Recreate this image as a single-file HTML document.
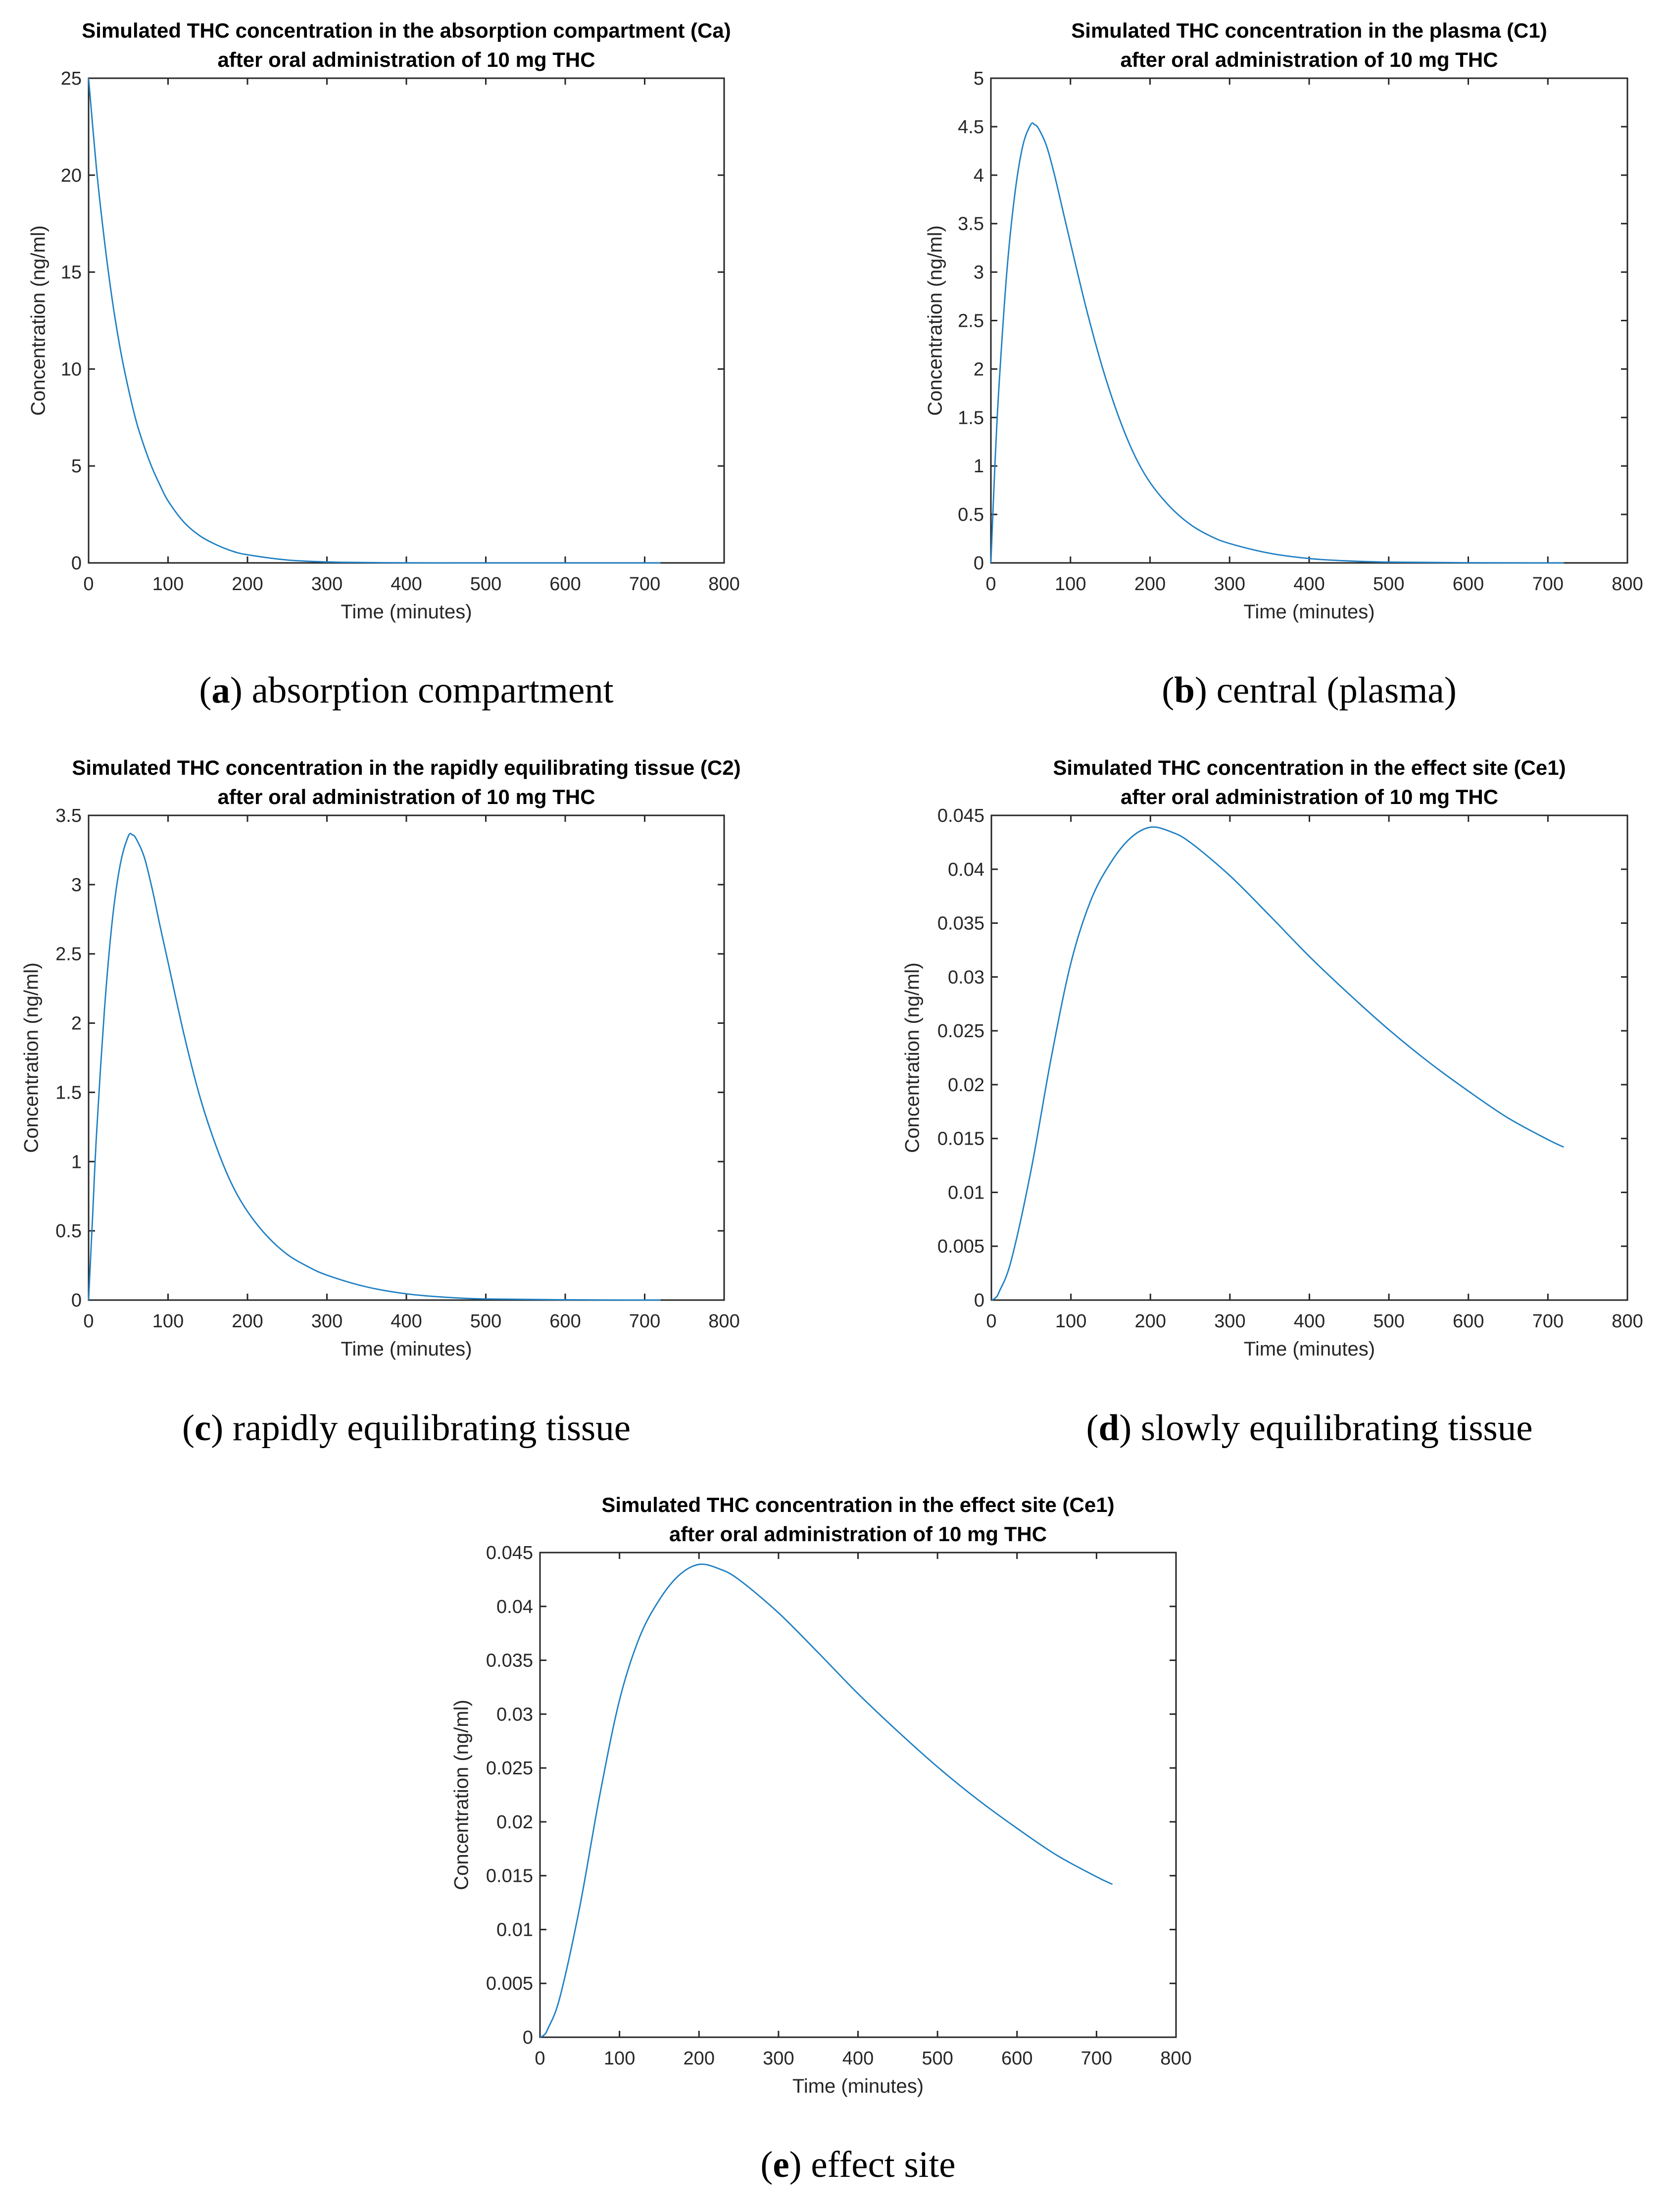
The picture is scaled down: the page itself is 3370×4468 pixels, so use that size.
<!DOCTYPE html>
<html><head><meta charset="utf-8"><style>
html,body{margin:0;padding:0;background:#fff}
svg{display:block}
</style></head><body>
<svg id="fig" xmlns="http://www.w3.org/2000/svg" width="3370" height="4468" viewBox="0 0 3370 4468"></svg>
<script>
// ---- data ----
const timesA = [0,10,20,30,40,50,60,70,80,90,100,120,140,160,180,200,250,300,350,400,500,600,720];
const valuesA = [25,20.3,16.6,13.5,11,9,7.3,6,4.9,4,3.2,2.1,1.4,0.95,0.62,0.42,0.15,0.05,0.02,0.005,0,0,0];
const timesB = [0,5,10,20,30,40,50,55,60,70,80,90,100,120,140,160,180,200,225,250,275,300,350,400,450,500,600,720];
const valuesB = [0,1.0,1.8,3.0,3.8,4.3,4.52,4.52,4.48,4.3,4.0,3.65,3.3,2.62,2.02,1.52,1.12,0.83,0.58,0.4,0.28,0.2,0.1,0.045,0.02,0.008,0.002,0];
const timesC = [0,5,10,20,30,40,50,55,60,70,80,90,100,120,140,160,180,200,225,250,275,300,350,400,450,500,600,720];
const valuesC = [0,0.6,1.2,2.1,2.75,3.15,3.35,3.36,3.33,3.2,2.97,2.7,2.44,1.92,1.47,1.12,0.84,0.64,0.46,0.33,0.245,0.18,0.095,0.045,0.02,0.008,0.002,0];
const timesCe = [0,5,10,25,50,75,100,125,150,175,200,225,250,300,350,400,450,500,550,600,650,700,720];
const valuesCe = [0,0.0002,0.0008,0.0037,0.0121,0.0224,0.0313,0.0371,0.0406,0.0429,0.0439,0.0435,0.0425,0.0394,0.0357,0.0319,0.0284,0.0251,0.0221,0.0194,0.0169,0.0149,0.0142];
const xTicks = [0,100,200,300,400,500,600,700,800];
const yTicksA = ["0","5","10","15","20","25"];
const yTicksB = ["0","0.5","1","1.5","2","2.5","3","3.5","4","4.5","5"];
const yTicksC = ["0","0.5","1","1.5","2","2.5","3","3.5"];
const yTicksCe = ["0","0.005","0.01","0.015","0.02","0.025","0.03","0.035","0.04","0.045"];

const NS="http://www.w3.org/2000/svg";
const svg=document.getElementById('fig');
function mk(tag,attrs,parent){const e=document.createElementNS(NS,tag);for(const k in attrs)e.setAttribute(k,attrs[k]);(parent||svg).appendChild(e);return e;}

const panels=[
 {id:'a',L:179,T:158,R:1463,B:1137,ymax:25,yt:yTicksA,t:timesA,v:valuesA,title1:'Simulated THC concentration in the absorption compartment (Ca)',ylx:80,cap:['a',') absorption compartment'],capY:1419},
 {id:'b',L:2002,T:158,R:3288,B:1137,ymax:5,yt:yTicksB,t:timesB,v:valuesB,title1:'Simulated THC concentration in the plasma (C1)',ylx:1892,cap:['b',') central (plasma)'],capY:1419},
 {id:'c',L:179,T:1647,R:1463,B:2626,ymax:3.5,yt:yTicksC,t:timesC,v:valuesC,title1:'Simulated THC concentration in the rapidly equilibrating tissue (C2)',ylx:66,cap:['c',') rapidly equilibrating tissue'],capY:2909},
 {id:'d',L:2003,T:1647,R:3288,B:2626,ymax:0.045,yt:yTicksCe,t:timesCe,v:valuesCe,title1:'Simulated THC concentration in the effect site (Ce1)',ylx:1846,cap:['d',') slowly equilibrating tissue'],capY:2909},
 {id:'e',L:1091,T:3136,R:2376,B:4115,ymax:0.045,yt:yTicksCe,t:timesCe,v:valuesCe,title1:'Simulated THC concentration in the effect site (Ce1)',ylx:935,cap:['e',') effect site'],capY:4397}
];
const tc='#262626';
panels.forEach(p=>{
  const g=mk('g',{});
  
  
  const W=p.R-p.L,H=p.B-p.T;
  const xs=t=>p.L+t/800*W;
  const ys=v=>p.B-v/p.ymax*H;
  const cx=(p.L+p.R)/2;
  const t1=mk('text',{x:cx,y:p.T-82,'text-anchor':'middle','font-family':'Liberation Sans, sans-serif','font-weight':'bold','font-size':42,fill:'#000'},g);
  t1.textContent=p.title1;
  
  
  const t2=mk('text',{x:cx,y:p.T-23,'text-anchor':'middle','font-family':'Liberation Sans, sans-serif','font-weight':'bold','font-size':42,fill:'#000'},g);
  t2.textContent='after oral administration of 10 mg THC';
  
  
  xTicks.forEach(v=>{
    const x=xs(v);
    mk('line',{x1:x,y1:p.B,x2:x,y2:p.B-13,stroke:tc,'stroke-width':3},g);
    mk('line',{x1:x,y1:p.T,x2:x,y2:p.T+13,stroke:tc,'stroke-width':3},g);
    const tl=mk('text',{x:x,y:p.B+55,'text-anchor':'middle','font-family':'Liberation Sans, sans-serif','font-size':38,fill:tc},g);
    tl.textContent=v;
    
    
  });
  p.yt.forEach(s=>{
    const y=ys(parseFloat(s));
    mk('line',{x1:p.L,y1:y,x2:p.L+13,y2:y,stroke:tc,'stroke-width':3},g);
    mk('line',{x1:p.R,y1:y,x2:p.R-13,y2:y,stroke:tc,'stroke-width':3},g);
    const tl=mk('text',{x:p.L-14,y:y+13,'text-anchor':'end','font-family':'Liberation Sans, sans-serif','font-size':38,fill:tc},g);
    tl.textContent=s;
    
    
  });
  const fr=mk('rect',{x:p.L,y:p.T,width:W,height:H,fill:'none',stroke:tc,'stroke-width':3},g);
  
  
  const pts=p.t.map((t,i)=>[xs(t),ys(p.v[i])]);
  let d='M'+pts[0][0]+','+pts[0][1];
  for(let i=0;i<pts.length-1;i++){
    const p0=pts[Math.max(0,i-1)],p1=pts[i],p2=pts[i+1],p3=pts[Math.min(pts.length-1,i+2)];
    const c1=[p1[0]+(p2[0]-p0[0])/6,p1[1]+(p2[1]-p0[1])/6];
    const c2=[p2[0]-(p3[0]-p1[0])/6,p2[1]-(p3[1]-p1[1])/6];
    d+=` C${c1[0]},${c1[1]} ${c2[0]},${c2[1]} ${p2[0]},${p2[1]}`;
  }
  const path=mk('path',{d:d,fill:'none',stroke:'#1f80c4','stroke-width':2.8},g);
  
  
  const xl=mk('text',{x:cx,y:p.B+112,'text-anchor':'middle','font-family':'Liberation Sans, sans-serif','font-size':40,fill:tc},g);
  xl.textContent='Time (minutes)';
  
  
  const ym=(p.T+p.B)/2;
  const yl=mk('text',{x:p.ylx,y:ym,'text-anchor':'middle','font-family':'Liberation Sans, sans-serif','font-size':40,fill:tc,transform:`rotate(-90 ${p.ylx} ${ym})`,'dominant-baseline':'middle'},g);
  yl.textContent='Concentration (ng/ml)';
  
  
  const cp=mk('text',{x:cx,y:p.capY,'text-anchor':'middle','font-family':'Liberation Serif, serif','font-size':75,fill:'#000'},g);
  
  
  const s0=mk('tspan',{},cp);s0.textContent='(';
  const s1=mk('tspan',{'font-weight':'bold'},cp);s1.textContent=p.cap[0];
  const s2=mk('tspan',{},cp);s2.textContent=p.cap[1];
});
</script>
</body></html>
